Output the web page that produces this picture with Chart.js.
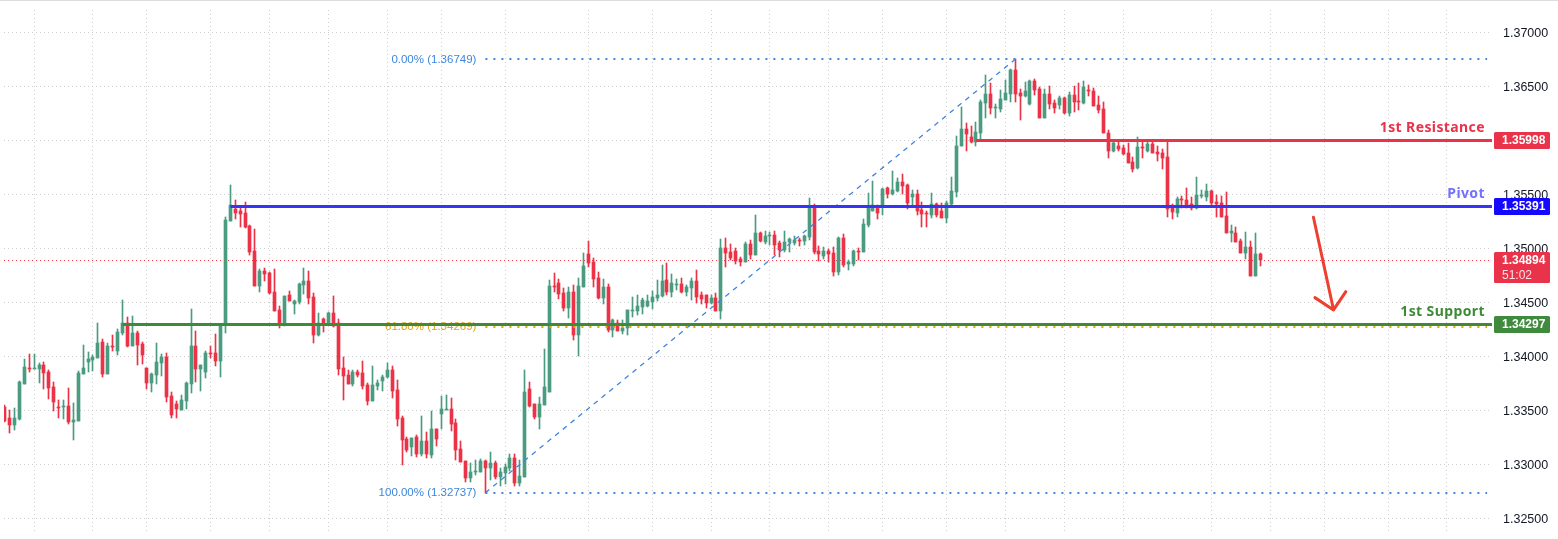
<!DOCTYPE html>
<html>
<head>
<meta charset="utf-8">
<title>Pivot chart</title>
<script src="https://cdn.jsdelivr.net/npm/chart.js@4"></script>
<style>
  html, body { margin: 0; padding: 0; background: #fff; overflow: hidden; }
  canvas { display: block; }
</style>
</head>
<body>
<canvas id="grafico" width="1558" height="539"></canvas>
<script>
// Candles
const opens = [
1.33531,1.33429,1.33364,1.33417,1.33744,1.33892,1.33883,1.33883,1.33920,1.33855,
1.33716,1.33531,1.33531,1.33540,1.33392,1.33402,1.33837,1.33948,1.33966,1.33985,
1.34133,1.33837,1.34096,1.34050,1.34216,1.34309,1.34096,1.34216,1.34114,1.33892,
1.33753,1.33827,1.33938,1.33994,1.33633,1.33559,1.33503,1.33587,1.33744,1.34096,
1.33883,1.33855,1.34031,1.34031,1.33957,1.34290,1.35253,1.35364,1.35346,1.35327,
1.35207,1.34975,1.34651,1.34790,1.34772,1.34596,1.34429,1.34290,1.34568,1.34485,
1.34503,1.34661,1.34698,1.34550,1.34198,1.34346,1.34290,1.34401,1.34309,1.33892,
1.33828,1.33744,1.33855,1.33846,1.33735,1.33587,1.33726,1.33772,1.33809,1.33874,
1.33689,1.33429,1.33235,1.33161,1.33254,1.33096,1.33217,1.33087,1.33328,1.33467,
1.33504,1.33513,1.33383,1.33142,1.33031,1.32874,1.32930,1.32930,1.33031,1.32967,
1.33013,1.32883,1.32920,1.32967,1.33059,1.32828,1.32883,1.33698,1.33559,1.33439,
1.33550,1.33670,1.34652,1.34679,1.34587,1.34448,1.34596,1.34198,1.34642,1.34948,
1.34874,1.34726,1.34540,1.34642,1.34244,1.34309,1.34235,1.34263,1.34420,1.34420,
1.34457,1.34466,1.34503,1.34540,1.34559,1.34707,1.34596,1.34661,1.34670,1.34596,
1.34633,1.34698,1.34568,1.34568,1.34494,1.34540,1.34420,1.35003,1.34966,1.34976,
1.34901,1.34874,1.35040,1.34938,1.35142,1.35059,1.35114,1.35124,1.35050,1.34985,
1.35059,1.35050,1.35077,1.35068,1.35105,1.35383,1.34976,1.34929,1.34976,1.34957,
1.34781,1.35096,1.34855,1.34855,1.34976,1.34966,1.35216,1.35346,1.35392,1.35401,
1.35559,1.35503,1.35531,1.35614,1.35587,1.35475,1.35503,1.35355,1.35327,1.35309,
1.35411,1.35346,1.35281,1.35410,1.35521,1.35947,1.36105,1.36031,1.35984,1.36068,
1.36345,1.36429,1.36299,1.36290,1.36373,1.36429,1.36651,1.36438,1.36410,1.36336,
1.36549,1.36475,1.36206,1.36429,1.36345,1.36327,1.36392,1.36253,1.36419,1.36364,
1.36345,1.36466,1.36456,1.36327,1.36290,1.36068,1.35901,1.35947,1.35929,1.35882,
1.35799,1.35744,1.35938,1.35901,1.35966,1.35892,1.35882,1.35845,1.35382,1.35327,
1.35457,1.35447,1.35410,1.35373,1.35484,1.35475,1.35531,1.35429,1.35420,1.35299,
1.35142,1.35142,1.35068,1.34957,1.35012,1.34744,1.34947];
const highs = [
1.33550,1.33503,1.33522,1.33772,1.33976,1.34022,1.34022,1.33938,1.33948,1.33874,
1.33763,1.33596,1.33596,1.33707,1.33568,1.33864,1.34105,1.34040,1.34013,1.34309,
1.34161,1.34124,1.34198,1.34253,1.34522,1.34364,1.34374,1.34235,1.34133,1.33892,
1.33846,1.34124,1.34022,1.34031,1.33670,1.33587,1.33642,1.33763,1.34438,1.34235,
1.33920,1.34050,1.34096,1.34207,1.34300,1.35290,1.35586,1.35448,1.35383,1.35429,
1.35216,1.35179,1.34809,1.34818,1.34781,1.34809,1.34466,1.34559,1.34605,1.34522,
1.34679,1.34818,1.34790,1.34587,1.34401,1.34355,1.34411,1.34559,1.34346,1.33994,
1.33874,1.33874,1.33874,1.33957,1.33754,1.33911,1.33781,1.33828,1.33939,1.33911,
1.33781,1.33448,1.33254,1.33244,1.33272,1.33448,1.33300,1.33494,1.33328,1.33633,
1.33642,1.33615,1.33420,1.33217,1.33031,1.33013,1.33041,1.33050,1.33041,1.33115,
1.33031,1.32967,1.33004,1.33096,1.33096,1.33041,1.33874,1.33763,1.33559,1.33624,
1.34068,1.34707,1.34772,1.34716,1.34633,1.34642,1.34661,1.34726,1.34957,1.35068,
1.34911,1.34781,1.34716,1.34670,1.34346,1.34337,1.34337,1.34429,1.34550,1.34568,
1.34540,1.34568,1.34605,1.34707,1.34846,1.34864,1.34763,1.34716,1.34726,1.34661,
1.34726,1.34800,1.34596,1.34568,1.34568,1.34587,1.35087,1.35096,1.35040,1.35003,
1.34920,1.35059,1.35077,1.35309,1.35151,1.35161,1.35151,1.35161,1.35068,1.35161,
1.35096,1.35114,1.35096,1.35124,1.35466,1.35411,1.35022,1.35013,1.34994,1.35013,
1.35105,1.35133,1.34892,1.34985,1.35003,1.35272,1.35512,1.35624,1.35401,1.35559,
1.35568,1.35716,1.35651,1.35688,1.35596,1.35540,1.35540,1.35429,1.35346,1.35512,
1.35420,1.35420,1.35438,1.35660,1.36040,1.36308,1.36160,1.36132,1.36169,1.36373,
1.36605,1.36530,1.36336,1.36466,1.36558,1.36660,1.36749,1.36475,1.36540,1.36558,
1.36568,1.36493,1.36475,1.36503,1.36373,1.36410,1.36401,1.36447,1.36503,1.36530,
1.36549,1.36512,1.36484,1.36410,1.36355,1.36095,1.35984,1.35984,1.35956,1.35975,
1.35845,1.36031,1.35984,1.35994,1.35984,1.35947,1.35919,1.35994,1.35410,1.35475,
1.35484,1.35558,1.35475,1.35660,1.35540,1.35595,1.35540,1.35494,1.35484,1.35521,
1.35216,1.35197,1.35086,1.35151,1.35068,1.35142,1.34957];
const lows = [
1.33392,1.33290,1.33318,1.33408,1.33744,1.33855,1.33883,1.33753,1.33698,1.33605,
1.33494,1.33429,1.33420,1.33374,1.33226,1.33402,1.33837,1.33855,1.33864,1.33985,
1.33809,1.33837,1.34050,1.34013,1.34198,1.34087,1.34096,1.33920,1.33929,1.33698,
1.33670,1.33744,1.33818,1.33577,1.33429,1.33429,1.33503,1.33513,1.33661,1.33763,
1.33679,1.33800,1.33985,1.33911,1.33809,1.34216,1.35253,1.35272,1.35198,1.35188,
1.34938,1.34651,1.34596,1.34698,1.34577,1.34420,1.34263,1.34281,1.34512,1.34392,
1.34485,1.34577,1.34485,1.34124,1.34188,1.34225,1.34290,1.34272,1.33827,1.33596,
1.33744,1.33726,1.33809,1.33698,1.33550,1.33587,1.33689,1.33679,1.33800,1.33615,
1.33355,1.32994,1.33115,1.33078,1.33068,1.33078,1.33059,1.33059,1.33170,1.33328,
1.33504,1.33309,1.33041,1.33022,1.32837,1.32837,1.32902,1.32930,1.32737,1.32855,
1.32865,1.32800,1.32818,1.32939,1.32800,1.32800,1.32883,1.33531,1.33420,1.33328,
1.33550,1.33670,1.34596,1.34531,1.34420,1.34355,1.34152,1.34003,1.34642,1.34827,
1.34642,1.34531,1.34485,1.34226,1.34179,1.34235,1.34207,1.34198,1.34365,1.34383,
1.34392,1.34457,1.34439,1.34513,1.34550,1.34568,1.34550,1.34614,1.34587,1.34559,
1.34522,1.34494,1.34485,1.34448,1.34485,1.34420,1.34346,1.34827,1.34892,1.34855,
1.34837,1.34874,1.34901,1.34938,1.35059,1.35040,1.35031,1.34938,1.34920,1.34966,
1.34966,1.35031,1.35022,1.35031,1.35077,1.34948,1.34883,1.34901,1.34874,1.34744,
1.34753,1.34827,1.34800,1.34837,1.34892,1.34966,1.35198,1.35346,1.35272,1.35309,
1.35466,1.35494,1.35522,1.35503,1.35364,1.35392,1.35309,1.35198,1.35198,1.35281,
1.35290,1.35281,1.35234,1.35401,1.35475,1.35947,1.35901,1.35975,1.35947,1.36003,
1.36206,1.36243,1.36206,1.36262,1.36373,1.36355,1.36355,1.36188,1.36401,1.36327,
1.36419,1.36206,1.36206,1.36290,1.36253,1.36290,1.36243,1.36225,1.36262,1.36280,
1.36336,1.36410,1.36318,1.36253,1.36068,1.35836,1.35892,1.35901,1.35864,1.35790,
1.35707,1.35734,1.35836,1.35892,1.35882,1.35808,1.35734,1.35290,1.35271,1.35290,
1.35373,1.35373,1.35355,1.35364,1.35466,1.35438,1.35382,1.35290,1.35290,1.35142,
1.35058,1.35058,1.34957,1.34901,1.34744,1.34744,1.34836];
const closes = [
1.33405,1.33364,1.33429,1.33763,1.33901,1.33883,1.33892,1.33920,1.33846,1.33707,
1.33577,1.33522,1.33540,1.33392,1.33411,1.33846,1.33892,1.33976,1.33994,1.34124,
1.33837,1.34096,1.34087,1.34225,1.34309,1.34096,1.34216,1.34105,1.34013,1.33753,
1.33837,1.33948,1.33994,1.33624,1.33457,1.33513,1.33596,1.33753,1.34096,1.33883,
1.33920,1.34031,1.34022,1.33957,1.34290,1.35262,1.35401,1.35327,1.35318,1.35198,
1.34966,1.34651,1.34790,1.34762,1.34587,1.34420,1.34309,1.34559,1.34512,1.34512,
1.34670,1.34698,1.34540,1.34198,1.34309,1.34309,1.34401,1.34281,1.33883,1.33821,
1.33744,1.33855,1.33828,1.33726,1.33587,1.33735,1.33754,1.33809,1.33874,1.33679,
1.33420,1.33226,1.33133,1.33244,1.33096,1.33217,1.33096,1.33328,1.33235,1.33513,
1.33513,1.33374,1.33133,1.33022,1.32874,1.32930,1.32939,1.33031,1.32967,1.33013,
1.32883,1.32930,1.32976,1.33059,1.32828,1.32893,1.33670,1.33541,1.33439,1.33559,
1.33716,1.34652,1.34642,1.34577,1.34448,1.34596,1.34198,1.34652,1.34837,1.34864,
1.34716,1.34540,1.34642,1.34244,1.34337,1.34235,1.34263,1.34429,1.34429,1.34466,
1.34522,1.34513,1.34550,1.34568,1.34698,1.34596,1.34679,1.34670,1.34596,1.34642,
1.34698,1.34550,1.34531,1.34494,1.34540,1.34420,1.35003,1.34957,1.34911,1.34883,
1.34874,1.35040,1.34938,1.35142,1.35068,1.35114,1.35124,1.35031,1.34985,1.35059,
1.35087,1.35077,1.35068,1.35114,1.35383,1.34966,1.34948,1.34976,1.34948,1.34781,
1.35096,1.34846,1.34874,1.34976,1.34966,1.35225,1.35383,1.35401,1.35327,1.35550,
1.35503,1.35540,1.35614,1.35577,1.35420,1.35503,1.35346,1.35318,1.35318,1.35411,
1.35309,1.35281,1.35420,1.35531,1.35947,1.36105,1.36058,1.35984,1.36077,1.36355,
1.36429,1.36299,1.36308,1.36382,1.36438,1.36651,1.36429,1.36410,1.36456,1.36549,
1.36466,1.36206,1.36429,1.36336,1.36299,1.36392,1.36253,1.36419,1.36355,1.36355,
1.36493,1.36456,1.36318,1.36280,1.36068,1.35901,1.35975,1.35919,1.35873,1.35790,
1.35734,1.35938,1.35929,1.35966,1.35882,1.35873,1.35836,1.35364,1.35336,1.35457,
1.35447,1.35392,1.35373,1.35494,1.35494,1.35531,1.35420,1.35410,1.35290,1.35142,
1.35160,1.35058,1.34957,1.35012,1.34744,1.34947,1.34894];

// Axis ticks
const priceTicks = [1.37, 1.365, 1.36, 1.355, 1.35, 1.345, 1.34, 1.335, 1.33, 1.325];
const timeTicks = [6, 18, 29, 42, 54, 66, 78, 89, 102, 119, 132, 144, 156, 168, 179, 192, 204, 216, 228, 246, 258, 269, 282, 294];

// Levels
const resistance = 1.35998;
const pivot = 1.35391;
const support = 1.34297;
const lastPrice = 1.34894;
const countdown = "51:02";
const fibHigh = 1.36749;
const fibMid = 1.34269;
const fibLow = 1.32737;

// Bar index where each drawing starts or ends
const xMin = -0.14;
const xMax = 303.2;
const fibStart = 98;
const fibPeak = 206;
const fibEnd = 302.2;
const resistanceStart = 198;
const pivotStart = 46;
const supportStart = 24;

// Hand drawn arrow
const arrowIdx = [266.8, 270.9, 267.1, 270.9, 273.4];
const arrowPrice = [1.35287, 1.34429, 1.34543, 1.34429, 1.34598];

const VERDE = "#4a9b7f";
const VERMELHO = "#eb3247";
const AZUL = "#3535f8";
const VERDE_LINHA = "#3f8a38";
const FIB_AZUL = "#3d86dc";
const FIB_LARANJA = "#dfa31a";
const FONTE = '"Liberation Sans", Arial, sans-serif';

const cores = closes.map((c, i) => (c >= opens[i] ? VERDE : VERMELHO));
const pontosCorpo = closes.map((c, i) => ({ x: i, y: [opens[i], c] }));
const pontosPavio = closes.map((c, i) => ({ x: i, y: [lows[i], highs[i]] }));

function linha(xs, ys, cor, largura, dash, ordem) {
  return {
    type: "line",
    data: xs.map((x, i) => ({ x: x, y: ys[i] })),
    borderColor: cor,
    borderWidth: largura,
    borderDash: dash || [],
    pointRadius: 0,
    tension: 0,
    order: ordem
  };
}

// Snap candles and level lines to whole pixels, the way the original chart does
const meioPixel = { 2: 0.5, 4: 0, 5: 0, 6: 0, 7: 0.5, 8: 0.5, 9: 0.5 };
const snapCandles = {
  id: "snapCandles",
  afterDatasetsUpdate(chart) {
    [0, 1].forEach(n => {
      chart.getDatasetMeta(n).data.forEach(el => {
        el.x = Math.floor(el.x) + 0.5;
        el.y = Math.round(el.y);
        el.base = Math.round(el.base);
        if (el.y === el.base) el.base += 1;
      });
    });
    Object.keys(meioPixel).forEach(n => {
      chart.getDatasetMeta(+n).data.forEach(el => {
        el.y = Math.round(el.y) + meioPixel[n];
      });
    });
  }
};

const fibLabels = {
  id: "fibLabels",
  beforeDatasetsDraw(chart) {
    const { ctx, scales } = chart;
    const right = scales.x.getPixelForValue(fibStart) - 9;
    ctx.save();
    ctx.font = "11.5px " + FONTE;
    ctx.textAlign = "right";
    ctx.textBaseline = "middle";
    [["0.00%", fibHigh, FIB_AZUL], ["61.80%", fibMid, FIB_LARANJA], ["100.00%", fibLow, FIB_AZUL]].forEach(f => {
      ctx.fillStyle = f[2];
      ctx.fillText(f[0] + " (" + f[1].toFixed(5) + ")", right, scales.y.getPixelForValue(f[1]));
    });
    ctx.restore();
  }
};

function caixa(ctx, area, y, altura, cor, linhas) {
  const esq = area.right + 2;
  ctx.fillStyle = cor;
  ctx.beginPath();
  ctx.roundRect(esq, Math.round(y) - 8, 56, altura, 1.5);
  ctx.fill();
  ctx.textAlign = "left";
  ctx.textBaseline = "middle";
  linhas.forEach((t, i) => {
    ctx.fillStyle = i === 0 ? "#ffffff" : "rgba(255,255,255,0.85)";
    ctx.font = (i === 0 ? "bold " : "") + "12px " + FONTE;
    ctx.fillText(t, esq + 8, Math.round(y) + 1 + i * 15);
  });
}

const priceTags = {
  id: "priceTags",
  afterDraw(chart) {
    const { ctx, chartArea, scales } = chart;
    const y = scales.y;
    ctx.save();
    ctx.fillStyle = "#dddddd";
    ctx.fillRect(0, 0, chart.width, 1);

    caixa(ctx, chartArea, y.getPixelForValue(resistance), 17, "#e8334a", [resistance.toFixed(5)]);
    caixa(ctx, chartArea, y.getPixelForValue(pivot), 17, "#1408ff", [pivot.toFixed(5)]);
    caixa(ctx, chartArea, y.getPixelForValue(lastPrice), 31, "#e8334a", [lastPrice.toFixed(5), countdown]);
    caixa(ctx, chartArea, y.getPixelForValue(support), 17, "#3f8a3c", [support.toFixed(5)]);

    ctx.font = "bold 14px " + '"Noto Sans", sans-serif';
    ctx.letterSpacing = "0.4px";
    ctx.textAlign = "right";
    ctx.textBaseline = "middle";
    const tx = chartArea.right - 7;
    ctx.fillStyle = "#e8334a";
    ctx.fillText("1st Resistance", tx, y.getPixelForValue(resistance) - 12);
    ctx.fillStyle = "#7272ff";
    ctx.fillText("Pivot", tx, y.getPixelForValue(pivot) - 12.5);
    ctx.fillStyle = VERDE_LINHA;
    ctx.fillText("1st Support", tx, y.getPixelForValue(support) - 12.5);
    ctx.restore();
  }
};

new Chart(document.getElementById("grafico"), {
  type: "bar",
  data: {
    datasets: [
      { data: pontosPavio, backgroundColor: cores, barThickness: 1, grouped: false, order: 11 },
      { data: pontosCorpo, backgroundColor: cores, barThickness: 3, grouped: false, order: 10 },
      linha([xMin, xMax], [lastPrice, lastPrice], "#f23645", 1, [1, 3], 12),
      linha([fibStart, fibPeak], [fibLow, fibHigh], FIB_AZUL, 1.3, [5, 5], 9),
      linha([fibStart, fibEnd], [fibHigh, fibHigh], FIB_AZUL, 2, [2, 6], 8),
      linha([fibStart, fibEnd], [fibMid, fibMid], FIB_LARANJA, 2, [2, 6], 8),
      linha([fibStart, fibEnd], [fibLow, fibLow], FIB_AZUL, 2, [2, 6], 8),
      linha([resistanceStart, xMax], [resistance, resistance], "#e8334a", 3, null, 5),
      linha([pivotStart, xMax], [pivot, pivot], AZUL, 3, null, 5),
      linha([supportStart, xMax], [support, support], VERDE_LINHA, 3, null, 5),
      Object.assign(linha(arrowIdx, arrowPrice, "#ee4030", 3, null, 1), { borderCapStyle: "round", borderJoinStyle: "round" })
    ]
  },
  plugins: [snapCandles, fibLabels, priceTags],
  options: {
    responsive: false,
    animation: false,
    layout: { padding: { left: 4, top: 10, bottom: 7, right: 0 } },
    plugins: { legend: { display: false }, tooltip: { enabled: false } },
    scales: {
      x: {
        type: "linear",
        min: xMin,
        max: xMax,
        offset: false,
        afterBuildTicks: s => { s.ticks = timeTicks.map(v => ({ value: v })); },
        afterFit: s => { s.height = 0; s.paddingLeft = 0; s.paddingRight = 0; },
        ticks: { display: false, autoSkip: false },
        border: { display: false, dash: [1, 3] },
        grid: { color: "#cdcdcd", lineWidth: 1, drawTicks: false, offset: false }
      },
      y: {
        position: "right",
        min: 1.32373,
        max: 1.37206,
        afterBuildTicks: s => { s.ticks = priceTicks.map(v => ({ value: v })); },
        afterFit: s => { s.width = 66; s.paddingTop = 0; s.paddingBottom = 0; },
        ticks: {
          padding: 11,
          labelOffset: 1,
          color: "#131722",
          font: { family: FONTE, size: 12.5 },
          callback: v => v.toFixed(5)
        },
        border: { display: false, dash: [1, 3] },
        grid: { color: "#cdcdcd", lineWidth: 1, drawTicks: false }
      }
    }
  }
});
</script>
</body>
</html>
